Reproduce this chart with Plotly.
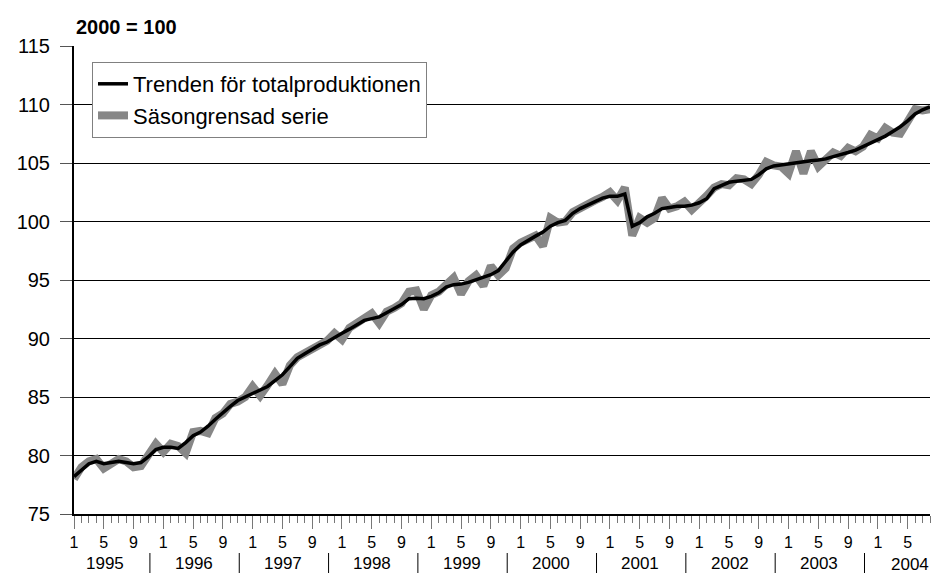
import plotly.graph_objects as go

# Monthly index, Jan 1995 .. Aug 2004 (116 months)
years = [1995, 1996, 1997, 1998, 1999, 2000, 2001, 2002, 2003, 2004]
month_labels = ["1", "5", "9"]

trend = [
    78.2, 78.8, 79.3, 79.5, 79.3, 79.4, 79.5, 79.4, 79.3, 79.4, 79.9, 80.5,
    80.7, 80.7, 80.6, 81.1, 81.7, 82.0, 82.5, 83.1, 83.7, 84.2, 84.7, 85.0,
    85.3, 85.55, 85.9, 86.4, 86.9, 87.6, 88.3, 88.7, 89.1, 89.45, 89.7, 90.1,
    90.45, 90.8, 91.2, 91.55, 91.7, 91.85, 92.2, 92.55, 92.9, 93.4, 93.45, 93.4,
    93.6, 93.9, 94.4, 94.6, 94.65, 94.8, 95.0, 95.2, 95.45, 95.8, 96.6, 97.4,
    98.0, 98.4, 98.75, 99.1, 99.6, 99.9, 100.1, 100.7, 101.1, 101.4, 101.7, 102.0,
    102.15, 102.15, 102.35, 99.6, 99.9, 100.4, 100.7, 101.1, 101.2, 101.3, 101.3, 101.4,
    101.6, 101.95, 102.8, 103.1, 103.35, 103.45, 103.55, 103.6, 104.0, 104.5, 104.75, 104.85,
    104.95, 105.0, 105.1, 105.2, 105.25, 105.35, 105.55, 105.7, 105.9, 106.1, 106.4, 106.7,
    107.0, 107.3, 107.7, 108.1, 108.6, 109.2, 109.55, 109.8,
]

seasonal = [
    78.0, 79.0, 79.5, 79.7, 78.9, 79.3, 79.7, 79.5, 79.0, 79.1, 80.2, 81.0,
    80.3, 81.0, 80.8, 80.2, 82.0, 82.1, 81.9, 83.2, 83.6, 84.4, 84.6, 85.0,
    85.9, 85.1, 86.0, 87.0, 86.1, 87.7, 88.4, 88.8, 89.0, 89.6, 89.8, 90.45,
    89.9, 90.9, 91.3, 91.6, 92.15, 91.3, 92.3, 92.6, 93.0, 94.0, 94.1, 92.5,
    93.7, 94.0, 94.6, 95.2, 93.8, 94.9, 95.4, 94.5, 96.2, 95.4, 96.0, 97.7,
    98.2, 98.5, 98.8, 97.9, 100.3, 99.9, 100.0, 100.8, 101.2, 101.4, 101.8, 102.1,
    102.5, 101.8, 102.9, 98.8, 100.3, 99.9, 100.3, 102.0, 101.1, 101.3, 101.7, 101.0,
    101.5, 102.2, 102.9, 103.2, 103.1, 103.7, 103.6, 103.2, 104.0, 105.1, 104.8, 104.7,
    104.1, 106.0, 104.1, 106.0, 104.7, 105.3, 105.9, 105.6, 106.3, 106.0, 106.4, 107.4,
    107.1, 108.0, 107.6, 107.5, 108.5, 109.6, 109.5, 109.6,
]

n = len(trend)
x = list(range(n))

FONT = "Liberation Sans, Arial, sans-serif"

fig = go.Figure()
fig.add_trace(go.Scatter(
    x=x, y=seasonal, mode="lines", name="Säsongrensad serie",
    line=dict(color="#878787", width=8), legendrank=2,
))
fig.add_trace(go.Scatter(
    x=x, y=trend, mode="lines", name="Trenden för totalproduktionen",
    line=dict(color="#000000", width=3.5), legendrank=1,
))

# month tick labels 1,5,9 every 4 months
tickvals = list(range(0, n, 4))
ticktext = [month_labels[(v % 12) // 4] for v in tickvals]

H = 468.0  # plot height in px (for paper coordinate helpers)


def py(px_below):
    return -px_below / H


annotations = []
shapes = []
for k, yr in enumerate(years):
    center = 4.1 + 12 * k
    if yr == 2004:
        center = 112.3
    annotations.append(dict(
        x=center, xref="x", y=py(49 if yr != 2004 else 50), yref="paper",
        text=str(yr), showarrow=False, xanchor="center", yanchor="middle",
        font=dict(family=FONT, size=17, color="#000"),
    ))
    if k > 0:
        sx = 10.2 + 12 * (k - 1)
        shapes.append(dict(
            type="line", xref="x", yref="paper", x0=sx, x1=sx,
            y0=py(39), y1=py(59), line=dict(color="#000", width=1),
        ))

annotations.append(dict(
    x=0, xref="paper", y=1 + 19 / H, yref="paper", text="<b>2000 = 100</b>",
    showarrow=False, xanchor="left", yanchor="middle",
    font=dict(family=FONT, size=20, color="#000"),
))

fig.update_layout(
    width=932, height=574,
    margin=dict(l=74, r=2, t=46, b=60),
    paper_bgcolor="white", plot_bgcolor="white",
    font=dict(family=FONT, color="#000"),
    showlegend=True,
    legend=dict(
        x=18 / 856, y=1 - 16 / H, xanchor="left", yanchor="top",
        bgcolor="white", bordercolor="#808080", borderwidth=1,
        font=dict(family=FONT, size=22, color="#000"),
        traceorder="normal", tracegroupgap=0,
    ),
    xaxis=dict(
        range=[0, n - 1], tickmode="array", tickvals=tickvals, ticktext=ticktext,
        ticks="outside", ticklen=13, tickwidth=1, tickcolor="#777",
        minor=dict(dtick=1, tick0=0, ticks="outside", ticklen=7, tickwidth=1, tickcolor="#777"),
        showgrid=False, zeroline=False,
        showline=True, linecolor="#000", linewidth=2,
        tickfont=dict(family=FONT, size=16, color="#000"),
    ),
    yaxis=dict(
        range=[75, 115], dtick=5, tick0=75,
        ticks="outside", ticklen=12, tickwidth=1, tickcolor="#555",
        showgrid=True, gridcolor="#000", gridwidth=1,
        zeroline=False, showline=True, linecolor="#000", linewidth=2,
        tickfont=dict(family=FONT, size=20, color="#000"),
        ticklabelstandoff=6,
    ),
    annotations=annotations,
    shapes=shapes,
)

fig.write_html(
    "out.html",
    config={"displayModeBar": False},
    post_script="document.body.style.margin='0';document.body.style.overflow='hidden';",
)
